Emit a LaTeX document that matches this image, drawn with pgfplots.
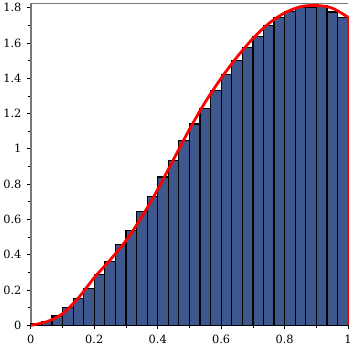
\documentclass[border=0pt]{standalone}
\usepackage{fontspec}
\setmainfont{DejaVu Serif}
\usepackage{pgfplots}
\pgfplotsset{compat=1.18}
\definecolor{barblue}{RGB}{62,87,140}
\definecolor{axgray}{RGB}{120,120,120}
\begin{document}
\begin{tikzpicture}
\begin{axis}[
  scale only axis,
  width=321pt, height=326pt,
  xmin=0, xmax=1, ymin=0, ymax=1.826,
  axis lines=left,
  axis line style={-, axgray, line width=1.5pt},
  xtick={0,0.2,0.4,0.6,0.8,1},
  ytick={0,0.2,0.4,0.6,0.8,1,1.2,1.4,1.6,1.8},
  minor tick num=1,
  tick align=outside,
  major tick length=4pt, minor tick length=3pt,
  tick style={black, line width=0.6pt},
  /pgf/number format/assume math mode=true,
  ticklabel style={font=\fontsize{11.5}{13}\selectfont},
  xticklabel style={yshift=-2.5pt},
  yticklabel style={xshift=-2pt},
  clip=false,
]
\addplot[ybar interval, fill=barblue, draw=black, line width=1.2pt] coordinates {
(0.00000,0.008) (0.03333,0.020) (0.06667,0.052) (0.10000,0.099) (0.13333,0.153)
(0.16667,0.210) (0.20000,0.286) (0.23333,0.360) (0.26667,0.457) (0.30000,0.535)
(0.33333,0.644) (0.36667,0.730) (0.40000,0.840) (0.43333,0.935) (0.46667,1.045)
(0.50000,1.140) (0.53333,1.230) (0.56667,1.330) (0.60000,1.420) (0.63333,1.500)
(0.66667,1.574) (0.70000,1.634) (0.73333,1.700) (0.76667,1.744) (0.80000,1.780)
(0.83333,1.800) (0.86667,1.800) (0.90000,1.810) (0.93333,1.775) (0.96667,1.744)
(1.00000,1.744)
};
\addplot[red, line width=2.8pt, smooth] coordinates {
(0,0) (0.05,0.02) (0.1,0.065) (0.15,0.155) (0.2,0.27) (0.25,0.37) (0.3,0.48)
(0.35,0.615) (0.4,0.77) (0.45,0.94) (0.5,1.11) (0.55,1.265) (0.6,1.40)
(0.65,1.52) (0.7,1.625) (0.75,1.71) (0.8,1.77) (0.85,1.805) (0.9,1.812)
(0.95,1.797) (1,1.745)
};
\addplot[red, line width=2.8pt] coordinates {(1,1.745) (1,0)};
\draw[axgray, line width=0.8pt] (rel axis cs:0,1) -- (rel axis cs:1,1);
\end{axis}
\end{tikzpicture}
\end{document}
